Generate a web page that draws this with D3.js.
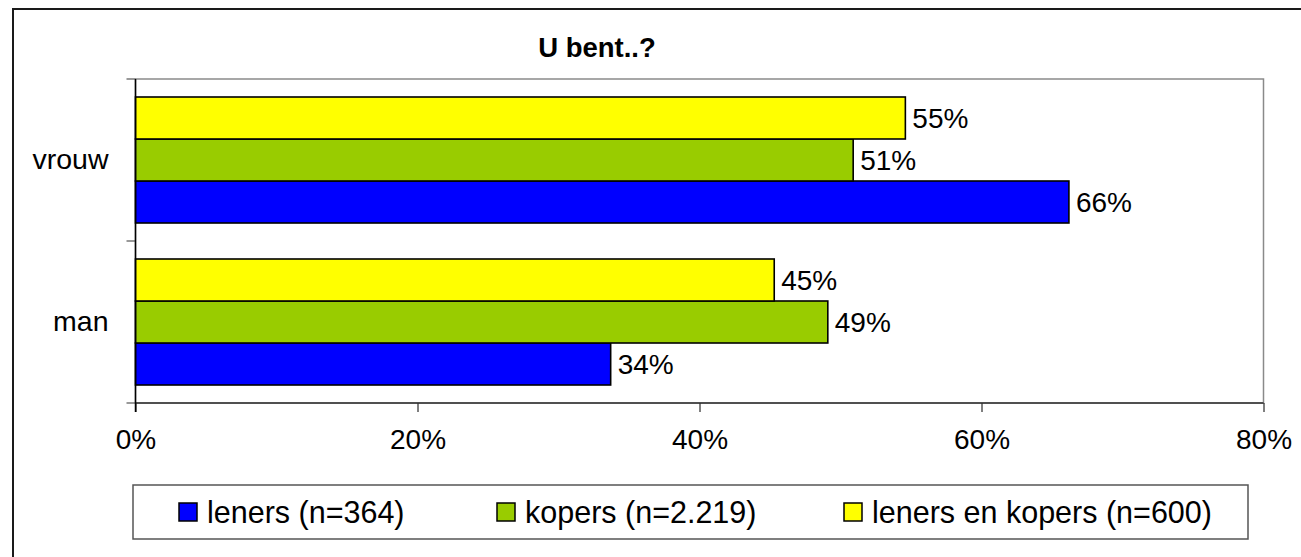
<!DOCTYPE html>
<html lang="nl">
<head>
	<meta charset="UTF-8">
	<title>U bent..?</title>
	<script src="https://cdn.jsdelivr.net/npm/d3@7"></script>
	<style>
		body { margin: 0; background: #fff; }
		text { font-family: "Liberation Sans", Arial, sans-serif; fill: #000; }
		.axis path { display: none; }
		.bar { stroke: #000; stroke-width: 1.6; }
	</style>
</head>
<body>
<script type="text/javascript">

	var categories = ['vrouw', 'man'];
	var seriesNames = ['leners (n=364)', 'kopers (n=2.219)', 'leners en kopers (n=600)'];
	var leners = [66.2, 33.7];
	var kopers = [50.9, 49.1];
	var lenersEnKopers = [54.6, 45.3];
	var xTicks = [0, 20, 40, 60, 80];
	var colors = ['#0000ff', '#99cc00', '#ffff00'];

	window.onload = function () {
		var W = 1301, H = 557;
		var left = 135.5, right = 1263.5, top = 79, bottom = 403;

		var svg = d3.select('body').append('svg')
			.attr('width', W)
			.attr('height', H);

		// outer frame (right and bottom fall outside the picture)
		svg.append('rect')
			.attr('x', 13).attr('y', 9)
			.attr('width', 1400).attr('height', 700)
			.attr('fill', '#fff')
			.attr('stroke', '#1a1a1a').attr('stroke-width', 2);

		var x = d3.scaleLinear().domain([0, 80]).range([left, right]);
		var y = d3.scaleBand().domain(categories).range([top, bottom]).padding(0);
		// order of bars in a group, top to bottom
		var order = [2, 1, 0];
		var yInner = d3.scaleBand().domain(order).range([18, y.bandwidth() - 18]);

		// plot area box
		svg.append('rect')
			.attr('x', left).attr('y', top)
			.attr('width', right - left).attr('height', bottom - top)
			.attr('fill', 'none')
			.attr('stroke', '#8a8a8a').attr('stroke-width', 1.5);

		svg.append('text')
			.attr('x', 597).attr('y', 57)
			.attr('text-anchor', 'middle')
			.style('font-size', '27.5px').style('font-weight', 'bold')
			.text('U bent..?');

		var rows = [];
		categories.forEach(function (c, i) {
			var vals = [leners[i], kopers[i], lenersEnKopers[i]];
			vals.forEach(function (v, s) {
				rows.push({cat: c, s: s, v: v});
			});
		});

		svg.selectAll('.bar')
			.data(rows)
			.enter().append('rect')
			.attr('class', 'bar')
			.attr('x', x(0))
			.attr('y', function (d) { return y(d.cat) + yInner(d.s); })
			.attr('width', function (d) { return x(d.v) - x(0); })
			.attr('height', yInner.bandwidth())
			.attr('fill', function (d) { return colors[d.s]; });

		svg.selectAll('.val')
			.data(rows)
			.enter().append('text')
			.attr('class', 'val')
			.attr('x', function (d) { return x(d.v) + 7; })
			.attr('y', function (d) { return y(d.cat) + yInner(d.s) + yInner.bandwidth() / 2; })
			.attr('dominant-baseline', 'central')
			.style('font-size', '28px')
			.text(function (d) { return Math.round(d.v) + '%'; });

		// x axis
		var xAxis = svg.append('g')
			.attr('class', 'axis')
			.attr('transform', 'translate(0,' + bottom + ')')
			.call(d3.axisBottom(x).tickValues(xTicks).tickSize(9).tickPadding(28)
				.tickFormat(function (d) { return d + '%'; }));
		xAxis.selectAll('line').attr('stroke', '#000');
		xAxis.selectAll('text').style('font-size', '28px').attr('dy', '0.32em');

		svg.append('line')
			.attr('x1', left).attr('x2', right)
			.attr('y1', bottom).attr('y2', bottom)
			.attr('stroke', '#333').attr('stroke-width', 1.5);

		// y axis: labels at band centres, ticks at band edges
		var yAxis = svg.append('g')
			.attr('class', 'axis')
			.attr('transform', 'translate(' + left + ',0)')
			.call(d3.axisLeft(y).tickSize(0).tickPadding(27));
		yAxis.selectAll('text').style('font-size', '28.5px');

		var edges = categories.map(function (c) { return y(c); }).concat([bottom]);
		svg.selectAll('.ytick')
			.data(edges)
			.enter().append('line')
			.attr('x1', left - 9).attr('x2', left)
			.attr('y1', function (d) { return d; }).attr('y2', function (d) { return d; })
			.attr('stroke', '#777').attr('stroke-width', 1.5);

		svg.append('line')
			.attr('x1', left).attr('x2', left)
			.attr('y1', top).attr('y2', bottom + 9)
			.attr('stroke', '#000').attr('stroke-width', 1.5);

		// legend
		var lg = svg.append('g');
		lg.append('rect')
			.attr('x', 133).attr('y', 485)
			.attr('width', 1115).attr('height', 54)
			.attr('fill', '#fff')
			.attr('stroke', '#555').attr('stroke-width', 1.5);

		var legendX = [179, 497, 844];
		var item = lg.selectAll('.item')
			.data(seriesNames)
			.enter().append('g')
			.attr('transform', function (d, i) { return 'translate(' + legendX[i] + ',503)'; });
		item.append('rect')
			.attr('width', 18).attr('height', 18)
			.attr('fill', function (d, i) { return colors[i]; })
			.attr('stroke', '#000').attr('stroke-width', 1.5);
		item.append('text')
			.attr('x', 28).attr('y', 9)
			.attr('dominant-baseline', 'central')
			.style('font-size', '30.5px')
			.text(function (d) { return d; });
	};
</script>
</body>
</html>
